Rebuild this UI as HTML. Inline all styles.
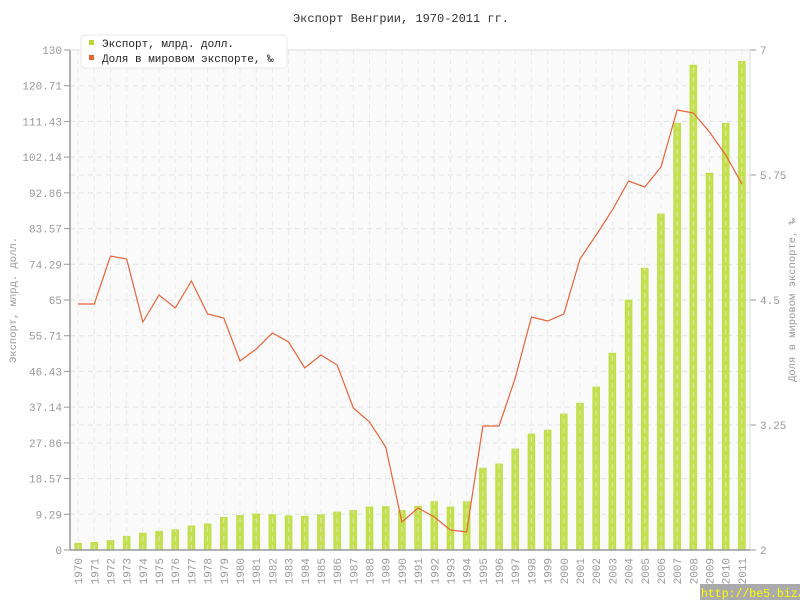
<!DOCTYPE html>
<html><head><meta charset="utf-8"><style>
body{margin:0;background:#fff;}
svg{display:block;font-family:"Liberation Mono","DejaVu Sans Mono",monospace;}
</style></head><body>
<svg id="s" width="800" height="600" xmlns="http://www.w3.org/2000/svg"></svg>
<script>
const s=document.getElementById('s');
let h='';
const L=70,R=750,T=50,B=550;
h+=`<rect x="${L}" y="${T}" width="${R-L}" height="${B-T}" fill="#fafafa"/>`;
const exp=[1.8,2.0,2.5,3.6,4.4,4.9,5.3,6.3,6.8,8.5,9.0,9.4,9.2,8.9,8.8,9.2,9.9,10.3,11.2,11.3,10.3,11.4,12.6,11.2,12.6,21.3,22.4,26.3,30.2,31.2,35.4,38.2,42.4,51.2,65,73.3,87.4,111,126.1,98,111,127.1];
const ly=[304,304,256,259,322,295,308,281,314,318,361,349,333,342,368,355,365,408,422,447,522,508,517,530,532,426,426,378,317,321,314,259,235,210,181,187,167,110,113,132,155,184];
const bw=(R-L)/42;
const cx=i=>L+bw/2+i*bw;
const lt=['0','9.29','18.57','27.86','37.14','46.43','55.71','65','74.29','83.57','92.86','102.14','111.43','120.71','130'];
for(let i=0;i<15;i++){const y=B-i*500/14;h+=`<line x1="${L}" x2="${R}" y1="${y}" y2="${y}" stroke="#e2e2e2" stroke-dasharray="5,4"/>`;
h+=`<line x1="${L-6}" x2="${L}" y1="${y}" y2="${y}" stroke="#999"/><text x="${L-8}" y="${y+4}" text-anchor="end" font-size="11" fill="#999">${lt[i]}</text>`;}
const rt=['2','3.25','4.5','5.75','7'];
for(let i=0;i<5;i++){const y=B-i*125;h+=`<line x1="${L}" x2="${R}" y1="${y}" y2="${y}" stroke="#e2e2e2" stroke-dasharray="5,4"/>`;
h+=`<line x1="${R}" x2="${R+6}" y1="${y}" y2="${y}" stroke="#999"/><text x="${R+10}" y="${y+4}" font-size="11" fill="#999">${rt[i]}</text>`;}
for(let i=0;i<42;i++){const v=exp[i]*500/130;h+=`<rect x="${cx(i)-3.5}" y="${B-v}" width="7" height="${v}" fill="#c4e04c" stroke="#b8d83a" stroke-width="0.5"/>`;}
for(let i=0;i<42;i++){h+=`<line x1="${cx(i)}" x2="${cx(i)}" y1="${T}" y2="${B}" stroke="#e6e6e6" stroke-opacity="0.8" stroke-dasharray="5,4"/>`;
h+=`<text transform="translate(${cx(i)+4},558) rotate(-90)" text-anchor="end" font-size="11" fill="#999">${1970+i}</text>`;}
h+=`<polyline fill="none" stroke="#e8643a" stroke-width="1.2" points="${ly.map((y,i)=>cx(i)+','+y).join(' ')}"/>`;
h+=`<line x1="${L}" x2="${L}" y1="${T}" y2="${B}" stroke="#999" stroke-width="1.5"/>`;
h+=`<line x1="${R}" x2="${R}" y1="${T}" y2="${B}" stroke="#ddd"/>`;
h+=`<line x1="${L}" x2="${R}" y1="${B}" y2="${B}" stroke="#999" stroke-width="1.5"/>`;
h+=`<line x1="${L}" x2="${R}" y1="${T}" y2="${T}" stroke="#ddd"/>`;
h+=`<text x="401" y="22" text-anchor="middle" font-size="12" fill="#333">Экспорт Венгрии, 1970-2011 гг.</text>`;
h+=`<text transform="translate(16,300) rotate(-90)" text-anchor="middle" font-size="10.5" fill="#999">Экспорт, млрд. долл.</text>`;
h+=`<text transform="translate(795,300) rotate(-90)" text-anchor="middle" font-size="10.5" fill="#999">Доля в мировом экспорте, ‰</text>`;
h+=`<rect x="81" y="35" width="206" height="33" rx="4" fill="#fff" stroke="#e8e8e8"/>`;
h+=`<rect x="89" y="40" width="5" height="5" fill="#b8d832"/><text x="102" y="47" font-size="11" fill="#222">Экспорт, млрд. долл.</text>`;
h+=`<rect x="89" y="55" width="5" height="5" fill="#e8642e"/><text x="102" y="62" font-size="11" fill="#222">Доля в мировом экспорте, ‰</text>`;
h+=`<rect x="700" y="584" width="100" height="16" fill="#aaa"/><text x="701" y="597" font-size="11.5" fill="#ffff00">http://be5.biz/</text>`;
s.innerHTML=h;
</script>
</body></html>
